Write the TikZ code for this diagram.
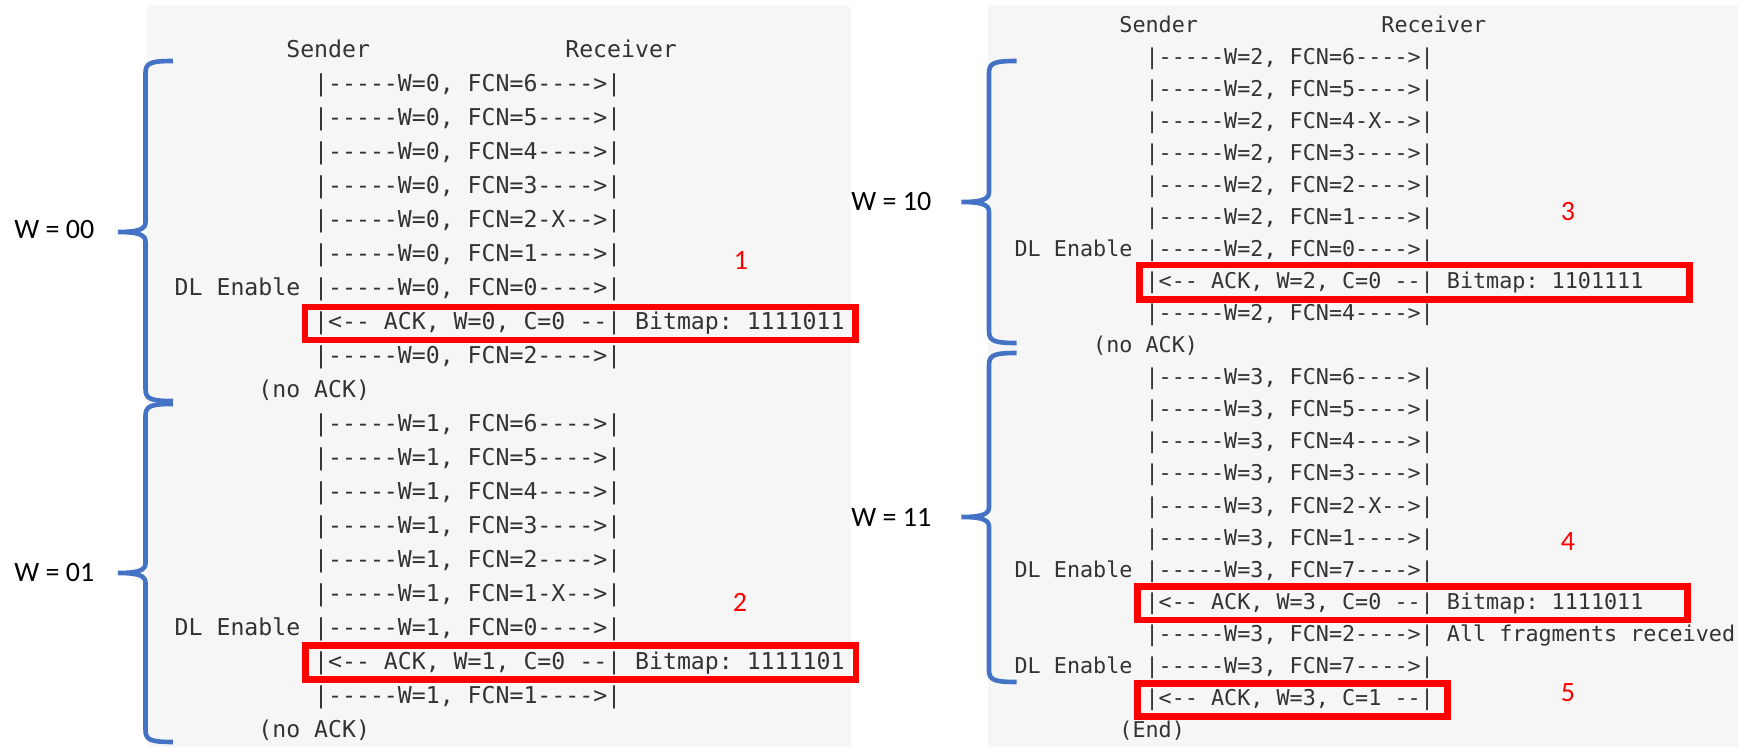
\documentclass[tikz,border=0pt]{standalone}
\usepackage{fontspec}
\setmainfont{Carlito}
\setmonofont{DejaVu Sans Mono}
\usepackage{tikz}
\usetikzlibrary{positioning}
\definecolor{panel}{HTML}{F6F6F6}
\definecolor{txt}{HTML}{333333}
\definecolor{bluebrace}{HTML}{4472C4}
\frenchspacing

\begin{document}
\begin{tikzpicture}[x=0.5pt,y=-0.5pt,
ln/.style={anchor=base west,inner sep=0pt,text=txt},
ackbox/.style={draw=red,line width=3.35pt},
wbrace/.style={draw=bluebrace,line width=2.3pt},
wlabel/.style={anchor=west,inner sep=0pt,font=\fontsize{14}{16}\selectfont},
num/.style={text=red,inner sep=0pt,font=\fontsize{14}{16}\selectfont}]
\useasboundingbox (0,0) rectangle (1738,747);
\fill[panel,rounded corners=1.5pt] (147,6) rectangle (851,760);
\fill[panel,rounded corners=1.5pt] (988,6) rectangle (1760,760);

% braces: x, top, tip, bottom
\foreach \bx/\bt/\bm/\bb in {145.5/61/232/401,145.5/404/573/742,989/61/202/343,989/353/517/682}
  \draw[wbrace] ({\bx+27.5},\bt) .. controls ({\bx+5},\bt) and (\bx,{\bt+2}) .. (\bx,{\bt+12})
    -- (\bx,{\bm-10}) .. controls (\bx,{\bm-3}) and ({\bx-6},\bm) .. ({\bx-27.5},\bm)
    .. controls ({\bx-6},\bm) and (\bx,{\bm+3}) .. (\bx,{\bm+10})
    -- (\bx,{\bb-12}) .. controls (\bx,{\bb-2}) and ({\bx+5},\bb) .. ({\bx+27.5},\bb);

\node[wlabel] (w0) at (14,230) {W = 00};
\node[wlabel] (w1) at (14,573) {W = 01};
\node[wlabel] (w2) at (851,202) {W = 10};
\node[wlabel] (w3) at (851,517) {W = 11};

\node[num] (n1) at (741,260) {1};
\node[num] (n2) at (740,602) {2};
\node[num] (n3) at (1568,212) {3};
\node[num] (n4) at (1568,542) {4};
\node[num] (n5) at (1568,693) {5};

% left panel, column/row grid
\begin{scope}[shift={(174.3,57.5)},x=6.975pt,y=-17pt,font=\ttfamily\fontsize{11.59}{14}\selectfont]
\node[ln] (s1) at (8,0) {Sender};
\node[ln] (r1) at (28,0) {Receiver};
\foreach \r/\fc in {1/6----,2/5----,3/4----,4/3----,5/2-X--,6/1----,7/0----}
  \node[ln] (a\r) at (10,\r) {|-----W=0, FCN=\fc>|};
\node[ln] (d1) at (0,7) {DL Enable};
\node[ln] (k1) at (10,8) {|<-- ACK, W=0, C=0 --| Bitmap: 1111011};
\node[ln] (a8) at (10,9) {|-----W=0, FCN=2---->|};
\node[ln] (e1) at (6,10) {(no ACK)};
\foreach \r/\fc in {11/6----,12/5----,13/4----,14/3----,15/2----,16/1-X--,17/0----}
  \node[ln] (a\r) at (10,\r) {|-----W=1, FCN=\fc>|};
\node[ln] (d2) at (0,17) {DL Enable};
\node[ln] (k2) at (10,18) {|<-- ACK, W=1, C=0 --| Bitmap: 1111101};
\node[ln] (a18) at (10,19) {|-----W=1, FCN=1---->|};
\node[ln] (e2) at (6,20) {(no ACK)};
\draw[ackbox] (9.37,7.34) rectangle (48.83,8.31);
\draw[ackbox] (9.4,17.3) rectangle (48.87,18.29);
\end{scope}

% right panel
\begin{scope}[shift={(1014.2,32.3)},x=6.55pt,y=-16.025pt,font=\ttfamily\fontsize{10.88}{13}\selectfont]
\node[ln] (s2) at (8,0) {Sender};
\node[ln] (r2) at (28,0) {Receiver};
\foreach \r/\fc in {1/6----,2/5----,3/4-X--,4/3----,5/2----,6/1----,7/0----}
  \node[ln] (b\r) at (10,\r) {|-----W=2, FCN=\fc>|};
\node[ln] (d3) at (0,7) {DL Enable};
\node[ln] (k3) at (10,8) {|<-- ACK, W=2, C=0 --| Bitmap: 1101111};
\node[ln] (b8) at (10,9) {|-----W=2, FCN=4---->|};
\node[ln] (e3) at (6,10) {(no ACK)};
\foreach \r/\fc in {11/6----,12/5----,13/4----,14/3----,15/2-X--,16/1----,17/7----}
  \node[ln] (b\r) at (10,\r) {|-----W=3, FCN=\fc>|};
\node[ln] (d4) at (0,17) {DL Enable};
\node[ln] (k4) at (10,18) {|<-- ACK, W=3, C=0 --| Bitmap: 1111011};
\node[ln] (b18) at (10,19) {|-----W=3, FCN=2---->| All fragments received};
\node[ln] (d5) at (0,20) {DL Enable};
\node[ln] (b19) at (10,20) {|-----W=3, FCN=7---->|};
\node[ln] (k5) at (10,21) {|<-- ACK, W=3, C=1 --|};
\node[ln] (e4) at (8,22) {(End)};
\draw[ackbox] (9.56,7.26) rectangle (51.57,8.33);
\draw[ackbox] (9.4,17.3) rectangle (51.41,18.34);
\draw[ackbox] (9.4,20.31) rectangle (33.09,21.35);
\end{scope}
\end{tikzpicture}
\end{document}
